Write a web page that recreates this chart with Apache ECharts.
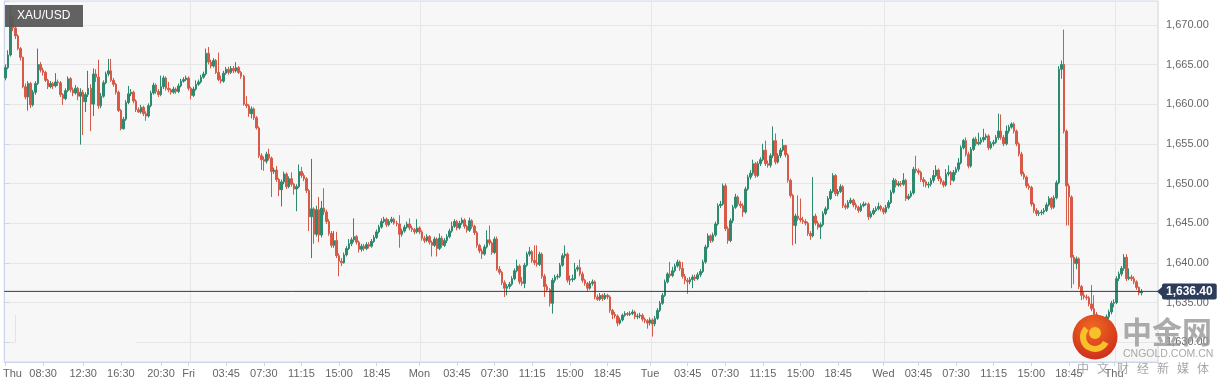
<!DOCTYPE html>
<html><head><meta charset="utf-8">
<script src="https://cdn.jsdelivr.net/npm/echarts@6/dist/echarts.min.js"></script>
<style>html,body{margin:0;padding:0;background:#fff}#c{width:1229px;height:387px}</style>
</head><body><div id="c"></div>
<script>
// ---- data (15-minute XAU/USD candles) ----
// each candle opens at the previous candle's close; the first open is given here
const firstOpen = 1663.3;
const closes = [
1664.6,1666.2,1671.0,1669.6,1668.6,1667.0,1665.9,1662.2,1660.9,1662.6,
1659.9,1661.5,1662.6,1665.0,1664.3,1664.0,1663.0,1662.2,1662.6,1662.3,
1662.8,1662.7,1661.2,1660.7,1661.7,1663.2,1661.8,1661.4,1662.0,1661.0,
1661.5,1660.3,1661.2,1662.0,1660.0,1663.8,1663.4,1659.8,1661.0,1662.7,
1663.8,1664.2,1663.0,1662.5,1661.5,1659.2,1656.9,1658.1,1660.2,1661.3,
1661.5,1660.4,1659.3,1659.0,1659.6,1658.8,1658.5,1659.8,1661.4,1662.4,
1661.6,1661.2,1662.2,1663.3,1662.0,1661.8,1661.5,1661.9,1661.6,1662.3,
1662.9,1663.1,1663.3,1662.0,1661.1,1661.9,1662.5,1662.8,1663.4,1663.8,
1666.4,1665.3,1664.8,1665.5,1664.0,1663.1,1662.9,1663.9,1664.4,1664.0,
1664.5,1664.2,1664.6,1664.0,1663.5,1660.0,1659.8,1658.8,1659.4,1658.3,
1657.0,1653.5,1653.0,1652.8,1653.7,1653.2,1651.5,1651.7,1650.5,1649.2,
1650.2,1651.2,1649.6,1650.6,1649.9,1649.3,1649.6,1651.5,1651.0,1650.6,
1649.1,1645.8,1646.8,1643.6,1646.7,1643.5,1646.9,1646.4,1645.2,1643.7,
1642.2,1642.8,1640.9,1640.2,1640.0,1641.0,1641.8,1642.4,1642.9,1643.3,
1642.6,1641.7,1642.1,1641.8,1642.3,1642.1,1642.7,1643.2,1643.9,1644.5,
1645.2,1645.5,1644.8,1645.2,1645.5,1645.0,1644.9,1643.6,1644.0,1644.5,
1644.9,1644.4,1644.2,1643.9,1644.4,1643.9,1643.1,1642.8,1643.3,1642.6,
1642.2,1643.0,1641.8,1643.1,1642.2,1642.8,1643.3,1644.0,1644.6,1645.2,
1644.4,1645.0,1645.4,1644.6,1644.1,1645.3,1644.6,1643.8,1642.2,1641.5,
1641.1,1642.0,1642.9,1642.5,1641.3,1643.0,1639.2,1638.8,1637.5,1636.8,
1637.0,1637.3,1638.0,1639.0,1639.6,1637.6,1637.4,1639.7,1641.1,1641.4,
1640.3,1640.0,1639.8,1641.1,1638.3,1637.0,1636.6,1634.9,1637.8,1638.2,
1638.3,1639.7,1640.9,1641.1,1637.8,1637.9,1638.0,1639.2,1639.4,1638.6,
1637.8,1637.4,1636.8,1637.4,1637.6,1635.7,1635.4,1635.9,1635.5,1635.9,
1635.7,1634.0,1633.5,1633.3,1632.4,1632.8,1633.4,1633.6,1633.5,1633.6,
1633.8,1633.2,1633.3,1633.4,1632.9,1632.7,1632.4,1632.8,1632.3,1633.0,
1634.0,1634.9,1635.9,1637.6,1638.6,1638.4,1639.0,1639.6,1640.1,1639.3,
1638.3,1637.8,1637.6,1637.9,1638.2,1638.0,1638.5,1638.9,1640.1,1642.0,
1643.4,1642.8,1643.5,1644.9,1647.2,1647.4,1649.7,1644.3,1642.8,1645.3,
1647.0,1648.3,1647.4,1647.2,1646.4,1649.3,1650.8,1651.3,1652.5,1651.0,
1652.5,1653.0,1654.2,1652.5,1652.3,1653.5,1655.4,1652.7,1653.5,1654.2,
1654.8,1653.6,1650.4,1648.5,1644.7,1645.9,1645.6,1645.4,1645.2,1645.0,
1643.7,1643.4,1645.9,1645.0,1644.5,1644.8,1646.2,1646.8,1648.1,1649.0,
1651.0,1648.7,1649.0,1649.6,1647.2,1647.0,1647.6,1647.9,1647.3,1647.0,
1646.6,1647.2,1647.4,1647.4,1645.8,1646.2,1646.6,1646.8,1647.1,1646.8,
1646.4,1647.0,1647.6,1648.9,1650.4,1649.8,1650.0,1649.9,1650.4,1648.1,
1648.4,1648.8,1651.8,1651.6,1651.4,1650.5,1650.2,1649.8,1649.9,1650.4,
1651.0,1651.7,1650.6,1650.2,1649.8,1651.2,1651.4,1650.4,1651.4,1651.8,
1652.6,1654.5,1655.4,1653.7,1652.2,1654.3,1655.6,1655.0,1655.2,1655.5,
1655.8,1656.0,1654.5,1655.0,1655.2,1655.8,1656.6,1655.8,1655.0,1656.6,
1657.1,1657.5,1656.6,1655.0,1653.7,1651.2,1650.8,1649.7,1649.5,1647.4,
1646.6,1646.2,1646.3,1646.4,1646.6,1647.3,1648.1,1647.0,1648.2,1650.1,
1664.4,1665.0,1656.6,1649.7,1648.3,1640.7,1639.9,1640.5,1637.0,1635.9,
1635.7,1635.6,1634.8,1634.2,1633.5,1633.0,1632.8,1632.0,1632.6,1633.2,
1633.8,1634.9,1635.0,1638.0,1638.6,1639.3,1640.7,1638.0,1638.2,1638.0,
1637.6,1636.9,1636.2,1636.4
];
const highs = [
1665.0,1666.8,1672.4,1671.2,1670.0,1668.8,1667.2,1666.0,1662.6,1662.9,
1662.8,1661.8,1662.9,1667.0,1665.3,1664.6,1664.2,1663.2,1662.9,1662.8,
1663.9,1663.1,1662.9,1661.4,1662.0,1663.5,1663.4,1662.1,1662.4,1662.2,
1662.0,1661.8,1661.5,1664.2,1662.5,1664.5,1664.4,1665.6,1661.4,1663.0,
1664.1,1665.7,1665.7,1663.3,1662.7,1661.7,1659.4,1658.4,1660.5,1662.3,
1661.9,1661.7,1660.6,1659.6,1659.9,1659.8,1659.1,1660.1,1661.7,1662.7,
1662.6,1661.9,1663.6,1663.6,1663.5,1662.8,1662.0,1662.2,1662.1,1662.6,
1663.2,1663.4,1663.6,1663.5,1662.2,1662.2,1663.0,1663.1,1663.7,1664.1,
1667.0,1667.2,1665.6,1665.8,1665.7,1666.5,1663.6,1664.2,1664.7,1664.7,
1664.8,1664.8,1665.3,1664.8,1664.2,1663.7,1661.0,1660.0,1659.7,1659.6,
1658.5,1657.2,1653.8,1653.4,1654.0,1654.4,1653.4,1652.0,1652.2,1650.7,
1650.5,1651.5,1651.4,1650.9,1651.4,1650.1,1649.9,1652.4,1652.1,1651.3,
1650.8,1649.3,1653.1,1647.0,1647.2,1648.3,1647.8,1649.4,1646.7,1645.5,
1644.0,1644.0,1643.9,1641.2,1640.6,1641.3,1642.1,1643.0,1643.2,1645.6,
1643.5,1642.8,1642.4,1642.4,1642.6,1642.6,1643.0,1643.5,1644.2,1644.8,
1645.6,1645.8,1645.7,1645.5,1645.8,1645.7,1645.3,1646.0,1644.3,1644.8,
1645.2,1645.6,1644.7,1644.4,1645.5,1644.6,1644.1,1643.4,1643.6,1643.5,
1642.8,1643.3,1643.2,1643.7,1643.4,1643.1,1643.6,1644.3,1645.2,1645.5,
1645.4,1645.3,1645.7,1645.6,1644.8,1645.7,1645.5,1644.8,1644.0,1642.4,
1641.8,1642.3,1644.1,1644.7,1642.7,1643.3,1643.3,1639.6,1639.0,1637.8,
1637.3,1637.6,1638.3,1639.3,1640.4,1639.8,1638.2,1640.0,1641.4,1642.0,
1641.6,1642.2,1642.2,1641.4,1641.3,1638.6,1637.3,1636.8,1638.1,1638.5,
1638.6,1640.0,1641.2,1642.2,1641.3,1638.4,1638.5,1640.0,1639.7,1640.4,
1638.9,1638.0,1637.6,1637.7,1637.9,1637.8,1636.0,1636.2,1636.1,1636.2,
1636.1,1635.9,1634.2,1633.8,1633.5,1633.1,1633.6,1633.9,1633.8,1633.9,
1634.1,1634.0,1633.6,1633.7,1633.6,1633.1,1632.9,1633.1,1633.0,1633.3,
1634.3,1635.2,1636.2,1637.9,1638.8,1640.1,1639.5,1639.9,1640.4,1640.3,
1640.1,1638.6,1638.1,1638.2,1638.5,1638.5,1638.8,1639.2,1640.4,1642.3,
1643.7,1643.6,1643.8,1645.2,1647.5,1647.8,1650.0,1650.0,1644.6,1645.6,
1647.3,1648.7,1648.5,1647.8,1647.5,1649.6,1651.1,1651.7,1653.0,1652.7,
1652.8,1653.3,1655.0,1655.4,1652.9,1653.8,1657.2,1656.3,1653.8,1654.5,
1655.6,1654.2,1653.8,1650.6,1648.7,1646.2,1648.5,1648.1,1645.8,1645.5,
1645.2,1644.0,1650.8,1646.2,1645.3,1645.1,1646.5,1647.1,1648.4,1649.3,
1651.3,1651.2,1649.3,1649.9,1649.8,1647.5,1647.9,1648.2,1648.1,1647.6,
1647.2,1647.5,1647.7,1647.6,1647.6,1646.5,1646.9,1647.1,1647.6,1647.3,
1647.0,1647.3,1647.9,1649.2,1650.7,1650.6,1650.3,1650.3,1651.3,1650.6,
1648.7,1649.1,1652.1,1653.5,1651.9,1651.6,1650.8,1650.4,1650.2,1650.7,
1651.7,1652.3,1651.9,1650.9,1650.4,1651.8,1652.3,1651.6,1651.7,1652.1,
1653.2,1654.8,1655.6,1655.8,1654.0,1654.6,1655.8,1655.9,1656.4,1655.8,
1656.9,1656.3,1656.2,1655.3,1655.5,1656.1,1658.8,1658.7,1656.1,1657.3,
1657.4,1657.7,1657.7,1656.8,1655.2,1654.0,1651.5,1651.0,1650.0,1649.7,
1647.6,1646.9,1646.6,1646.7,1646.9,1647.6,1648.4,1648.3,1648.5,1650.4,
1664.8,1665.5,1669.4,1656.8,1650.0,1648.5,1641.0,1640.8,1640.7,1637.2,
1636.3,1636.0,1635.8,1637.2,1635.9,1633.8,1633.3,1633.0,1632.9,1633.5,
1634.1,1635.2,1635.4,1638.3,1638.9,1639.6,1641.1,1641.1,1639.3,1638.5,
1638.3,1637.8,1637.0,1636.7
];
const lows = [
1663.0,1664.4,1666.0,1669.2,1668.2,1666.8,1665.5,1662.0,1660.6,1659.2,
1659.5,1659.7,1661.2,1662.4,1664.0,1663.6,1662.8,1661.9,1662.0,1661.9,
1662.1,1662.3,1660.9,1659.9,1660.5,1661.5,1661.5,1661.0,1661.2,1660.5,
1654.9,1656.1,1659.0,1660.9,1656.6,1658.5,1662.8,1659.4,1659.5,1660.8,
1662.5,1663.5,1662.8,1662.2,1661.2,1659.0,1656.7,1656.8,1657.9,1660.0,
1661.0,1660.1,1659.0,1658.9,1658.8,1658.5,1657.9,1658.3,1659.6,1661.2,
1661.3,1660.9,1661.0,1661.9,1661.7,1661.5,1661.2,1661.3,1661.3,1661.4,
1662.1,1662.7,1662.9,1661.7,1660.6,1660.9,1661.7,1662.3,1662.6,1663.2,
1663.6,1665.0,1664.5,1664.6,1663.8,1662.9,1662.6,1662.7,1663.7,1663.7,
1663.8,1663.9,1664.0,1663.8,1663.2,1659.8,1659.5,1658.4,1658.2,1658.0,
1656.8,1653.2,1651.7,1651.6,1652.5,1652.9,1648.3,1651.2,1650.2,1648.4,
1647.1,1649.9,1649.3,1649.4,1649.6,1648.6,1646.5,1649.4,1650.7,1650.3,
1648.8,1644.0,1640.6,1642.4,1643.3,1642.6,1643.2,1646.0,1644.9,1643.4,
1641.9,1641.9,1640.6,1638.3,1639.6,1639.9,1640.8,1641.6,1642.1,1642.6,
1642.3,1641.3,1641.4,1641.5,1641.6,1641.8,1641.9,1642.5,1643.0,1643.7,
1644.3,1645.0,1644.5,1644.6,1645.0,1644.8,1644.6,1641.9,1643.3,1643.8,
1644.3,1644.1,1643.9,1643.6,1643.7,1643.6,1642.8,1642.5,1642.6,1642.3,
1640.8,1642.0,1640.8,1641.6,1641.9,1642.0,1642.5,1643.1,1643.8,1644.4,
1644.1,1644.2,1644.8,1644.3,1643.8,1643.9,1644.3,1643.5,1641.9,1641.2,
1640.5,1640.9,1641.8,1642.2,1641.0,1641.1,1639.0,1638.5,1637.2,1635.7,
1635.9,1636.7,1637.1,1637.8,1638.8,1637.3,1637.1,1636.8,1639.5,1640.8,
1640.0,1639.7,1639.5,1639.6,1638.0,1635.7,1636.3,1634.5,1633.6,1637.5,
1637.9,1638.1,1639.5,1640.6,1637.5,1637.2,1637.6,1637.8,1638.9,1638.3,
1637.5,1637.1,1636.4,1636.6,1637.1,1635.4,1635.2,1635.2,1635.2,1635.3,
1635.4,1633.7,1632.9,1633.0,1632.0,1632.2,1632.6,1633.2,1633.3,1633.3,
1633.4,1632.9,1632.9,1633.0,1632.6,1632.4,1631.7,1632.1,1630.7,1632.0,
1632.8,1633.8,1634.7,1635.7,1637.4,1638.1,1638.2,1638.8,1639.4,1639.0,
1638.0,1637.3,1636.1,1637.3,1636.8,1637.7,1637.8,1638.2,1638.7,1639.9,
1641.8,1642.5,1642.6,1643.3,1644.7,1646.9,1647.2,1644.0,1642.4,1642.6,
1645.0,1646.8,1647.1,1646.9,1645.8,1646.2,1649.1,1650.5,1651.0,1650.7,
1650.8,1652.2,1652.8,1652.2,1652.0,1652.0,1653.2,1652.4,1652.5,1653.2,
1654.0,1653.3,1650.1,1648.2,1642.2,1642.4,1645.3,1645.1,1644.9,1644.7,
1643.4,1642.9,1643.2,1644.7,1644.2,1643.0,1644.6,1646.0,1646.6,1647.9,
1648.8,1648.4,1648.4,1648.8,1646.9,1646.7,1646.8,1647.4,1647.0,1646.7,
1646.3,1646.4,1647.0,1647.2,1645.4,1645.6,1646.0,1646.4,1646.6,1646.5,
1646.1,1646.2,1646.8,1647.4,1648.7,1649.5,1649.6,1649.6,1649.7,1647.8,
1647.9,1648.2,1648.6,1651.3,1651.1,1650.2,1649.6,1649.5,1649.4,1649.6,
1650.1,1650.8,1650.3,1649.9,1649.5,1649.6,1650.9,1649.8,1650.2,1651.1,
1651.5,1652.4,1654.3,1653.4,1651.9,1652.0,1654.1,1654.7,1654.8,1654.9,
1655.2,1655.5,1654.2,1654.3,1654.7,1655.0,1655.5,1655.5,1654.7,1654.8,
1656.3,1656.9,1656.3,1654.7,1653.4,1650.9,1650.5,1649.4,1649.2,1647.1,
1646.3,1645.9,1645.9,1646.0,1646.1,1646.4,1647.1,1646.7,1646.8,1648.0,
1649.9,1663.2,1656.3,1644.7,1644.7,1636.8,1637.3,1639.2,1636.7,1635.3,
1635.4,1635.3,1634.5,1633.9,1633.2,1632.7,1632.2,1631.7,1631.0,1632.3,
1632.9,1633.5,1634.4,1634.8,1637.7,1638.3,1639.0,1637.7,1637.8,1637.7,
1637.3,1636.6,1635.9,1635.9
];
// x-axis tick labels (category slot index -> text)
const tickIdx = [0,15,31,46,62,73,88,103,118,133,148,165,180,195,210,225,240,257,272,287,302,317,332,350,364,379,394,409,424,442];
const tickText = ['Thu','08:30','12:30','16:30','20:30','Fri','03:45','07:30','11:15','15:00','18:45','Mon','03:45','07:30','11:15','15:00','18:45','Tue','03:45','07:30','11:15','15:00','18:45','Wed','03:45','07:30','11:15','15:00','18:45','Thu'];
// session (day) boundaries for the vertical grid lines
const dayBoundaryIdx = [74,166,258,351,443];
const slotCount = 460;
const yTicks = [1630,1635,1640,1645,1650,1655,1660,1665,1670];

// ---- build ----
const categories = Array.from({length: slotCount}, (_, i) => String(i));
const ohlc = closes.map((c, i) => {
  const o = i === 0 ? firstOpen : closes[i - 1];
  return [o, c, Math.min(lows[i], o, c), Math.max(highs[i], o, c)];
});
const lastPrice = closes[closes.length - 1];
const labelMap = new Map(tickIdx.map((v, k) => [v, tickText[k]]));
const daySet = new Set(dayBoundaryIdx);
const yTickSet = new Set(yTicks);
const fmt = v => v.toLocaleString('en-US', {minimumFractionDigits: 2, maximumFractionDigits: 2});
const FONT = '"Liberation Sans", Arial, Helvetica, sans-serif';
const UP = '#2e8a6f', DOWN = '#d65a47', NAVY = '#2b3d5b';

const chart = echarts.init(document.getElementById('c'), null, {renderer: 'canvas'});
chart.setOption({
  animation: false,
  textStyle: {fontFamily: FONT},
  grid: {left: 1, right: 71, top: 1, bottom: 25, show: true, backgroundColor: '#f7f7f7', borderColor: '#ccd6eb', borderWidth: 1},
  xAxis: [{
    type: 'category', data: categories, boundaryGap: true,
    axisLine: {show: true, lineStyle: {color: '#ccd6eb'}},
    axisTick: {show: true, alignWithLabel: true, length: 4, interval: (i) => labelMap.has(i), lineStyle: {color: '#ccd6eb'}},
    axisLabel: {
      interval: (i) => labelMap.has(i), margin: 6, color: '#666', fontSize: 11, fontFamily: FONT,
      formatter: (val) => { const k = +val; const t = labelMap.get(k) || ''; return k === 0 ? '{first|' + t + '}' : t; },
      rich: {first: {padding: [0, 0, 0, 14], color: '#666', fontSize: 11, fontFamily: FONT}}
    },
    splitLine: {show: true, interval: (i) => daySet.has(i), lineStyle: {color: '#e6e6e6', width: 1}}
  }, {
    type: 'value', min: 0, max: 1, show: false
  }],
  yAxis: {
    type: 'value', position: 'right', min: 1627.5, max: 1673, splitNumber: 9, minInterval: 5, maxInterval: 5,
    axisLine: {show: true, lineStyle: {color: '#ccd6eb'}},
    axisTick: {show: true, length: 5, lineStyle: {color: '#ccd6eb'}},
    axisLabel: {margin: 8, color: '#666', fontSize: 11, fontFamily: FONT,
      formatter: v => yTickSet.has(Math.round(v * 100) / 100) ? fmt(v) : ''},
    splitLine: {show: true, lineStyle: {color: '#e6e6e6', width: 1}}
  },
  series: [{
    type: 'candlestick', data: ohlc, barWidth: 2, clip: true, z: 2,
    itemStyle: {color: UP, color0: DOWN, borderColor: UP, borderColor0: DOWN, borderWidth: 1}
  }, {
    // current-price line across the whole plot, with its price tag
    type: 'line', xAxisIndex: 1, data: [[0, lastPrice], [1, lastPrice]], symbol: 'none', silent: true, z: 5,
    lineStyle: {color: NAVY, width: 1},
    endLabel: {show: true, distance: 4, formatter: () => fmt(lastPrice),
      backgroundColor: NAVY, color: '#fff', fontWeight: 'bold', fontSize: 12, fontFamily: FONT,
      padding: [2, 4, 2, 4], borderRadius: 2}
  }]
});

const yp = chart.convertToPixel({yAxisIndex: 0}, lastPrice);
const wmChars = ['中','文','财','经','新','媒','体'];
const graphics = [
  {type: 'rect', shape: {x: 15.5, y: 314, width: 120, height: 29.5}, style: {fill: '#f7f7f7'}, z: 10, silent: true},
  {type: 'line', shape: {x1: 15.5, y1: 315, x2: 15.5, y2: 342}, style: {stroke: '#e3e3e3', lineWidth: 1}, z: 11, silent: true},
  {type: 'polygon', shape: {points: [[1157, yp], [1162.5, yp - 5], [1162.5, yp + 5]]}, style: {fill: NAVY}, z: 50, silent: true},
  {type: 'rect', shape: {x: 5, y: 5, width: 78, height: 22}, style: {fill: 'rgba(90,90,90,0.95)'}, z: 60, silent: true},
  {type: 'text', x: 17, y: 16, style: {text: 'XAU/USD', fill: '#fff', font: '12px ' + FONT, verticalAlign: 'middle'}, z: 61, silent: true},
  {type: 'circle', shape: {cx: 1095, cy: 337, r: 22.5}, style: {fill: new echarts.graphic.RadialGradient(0.45, 0.3, 0.8, [{offset: 0, color: '#f06a22'}, {offset: 1, color: '#c8281a'}])}, z: 70, silent: true},
  {type: 'arc', shape: {cx: 1095, cy: 337, r: 12, startAngle: Math.PI * 0.15, endAngle: Math.PI * 1.25, clockwise: true}, style: {stroke: '#f8c02a', lineWidth: 6, fill: 'none'}, z: 71, silent: true},
  {type: 'circle', shape: {cx: 1095, cy: 333, r: 6}, style: {fill: '#f8c02a'}, z: 71, silent: true},
  {type: 'text', x: 1122, y: 317, style: {text: '中金网', fill: 'rgba(150,150,150,0.8)', font: 'bold 30px "Noto Sans CJK SC"', verticalAlign: 'top'}, z: 70, silent: true},
  {type: 'text', x: 1123, y: 349, style: {text: 'CNGOLD.COM.CN', fill: 'rgba(160,160,160,0.9)', font: '10.5px ' + FONT, verticalAlign: 'top'}, z: 70, silent: true}
];
wmChars.forEach((ch, k) => graphics.push({type: 'text', x: 1077 + k * 20, y: 362, style: {text: ch, fill: 'rgba(150,150,150,0.85)', font: '12px "Noto Sans CJK SC"', verticalAlign: 'top'}, z: 70, silent: true}));
chart.setOption({graphic: graphics});
</script>
</body></html>
